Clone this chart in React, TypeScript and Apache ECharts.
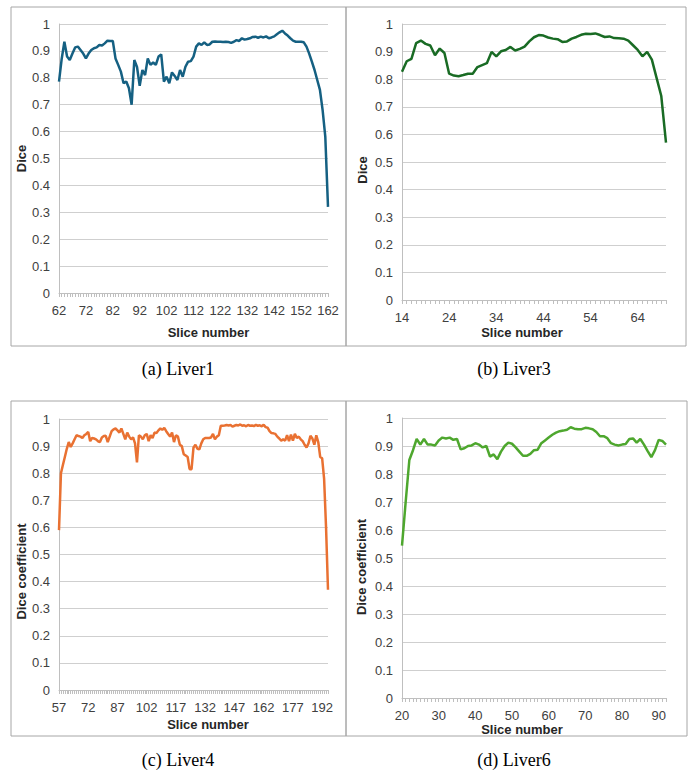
import React, { useEffect, useRef } from "react";
import * as echarts from "echarts";

// Slice-number ranges (first slice of each panel)
const liver1Start = 62;
const liver3Start = 14;
const liver4Start = 57;
const liver6Start = 20;

// Dice values per slice
const liver1Dice = [
  0.786, 0.87, 0.934, 0.879, 0.866, 0.89, 0.913, 0.916, 0.903, 0.89,
  0.872, 0.89, 0.903, 0.91, 0.913, 0.922, 0.92, 0.928, 0.938, 0.937,
  0.937, 0.872, 0.848, 0.823, 0.78, 0.786, 0.761, 0.70, 0.866, 0.84,
  0.77, 0.829, 0.81, 0.872, 0.848, 0.857, 0.848, 0.879, 0.887, 0.786,
  0.804, 0.78, 0.82, 0.807, 0.792, 0.829, 0.804, 0.841, 0.86, 0.862,
  0.879, 0.916, 0.928, 0.922, 0.932, 0.922, 0.924, 0.934, 0.935, 0.934,
  0.934, 0.933, 0.934, 0.933, 0.93, 0.934, 0.94, 0.937, 0.947, 0.942,
  0.944, 0.947, 0.952, 0.953, 0.949, 0.953, 0.95, 0.954, 0.947, 0.95,
  0.954, 0.962, 0.969, 0.975, 0.965, 0.957, 0.947, 0.938, 0.934, 0.934,
  0.934, 0.932, 0.916, 0.89, 0.86, 0.829, 0.792, 0.755, 0.68, 0.58,
  0.32,
];

const liver3Dice = [
  0.827, 0.865, 0.874, 0.931, 0.94, 0.928, 0.922, 0.887, 0.911, 0.895,
  0.82, 0.813, 0.811, 0.815, 0.82, 0.82, 0.844, 0.851, 0.858, 0.899,
  0.883, 0.901, 0.906, 0.917, 0.904, 0.91, 0.918, 0.937, 0.952, 0.96,
  0.958, 0.951, 0.947, 0.945, 0.935, 0.937, 0.947, 0.953, 0.961, 0.965,
  0.964, 0.966, 0.96, 0.953, 0.955, 0.949, 0.948, 0.947, 0.94, 0.923,
  0.906, 0.883, 0.899, 0.871, 0.805, 0.739, 0.57,
];

const liver4Dice = [
  0.59, 0.80, 0.83, 0.86, 0.89, 0.915, 0.897, 0.91, 0.925, 0.94,
  0.937, 0.935, 0.93, 0.94, 0.945, 0.952, 0.918, 0.93, 0.928, 0.925,
  0.918, 0.915, 0.932, 0.937, 0.938, 0.915, 0.935, 0.955, 0.962, 0.965,
  0.958, 0.95, 0.965, 0.945, 0.925, 0.95, 0.935, 0.925, 0.932, 0.91,
  0.84, 0.94, 0.935, 0.925, 0.94, 0.945, 0.918, 0.94, 0.93, 0.95,
  0.948, 0.958, 0.965, 0.96, 0.967, 0.955, 0.945, 0.935, 0.95, 0.915,
  0.94, 0.935, 0.905, 0.9, 0.87, 0.865, 0.86, 0.815, 0.815, 0.895,
  0.905, 0.89, 0.888, 0.91, 0.925, 0.93, 0.93, 0.93, 0.932, 0.945,
  0.925, 0.935, 0.94, 0.975, 0.975, 0.976, 0.978, 0.976, 0.978, 0.972,
  0.975, 0.978, 0.976, 0.98, 0.975, 0.977, 0.973, 0.978, 0.975, 0.976,
  0.974, 0.978, 0.975, 0.977, 0.973, 0.979, 0.97, 0.968, 0.955, 0.948,
  0.947, 0.945, 0.935, 0.928, 0.92, 0.925, 0.92, 0.94, 0.918, 0.942,
  0.92, 0.945, 0.93, 0.935, 0.925, 0.918, 0.905, 0.895, 0.91, 0.938,
  0.928, 0.905, 0.94, 0.915, 0.86, 0.855, 0.78, 0.6, 0.37,
];

const liver6Dice = [
  0.544, 0.70, 0.85, 0.885, 0.925, 0.905, 0.925, 0.905, 0.905, 0.902,
  0.92, 0.93, 0.927, 0.93, 0.922, 0.925, 0.888, 0.892, 0.9, 0.902,
  0.91, 0.905, 0.895, 0.9, 0.862, 0.87, 0.853, 0.88, 0.9, 0.912,
  0.908, 0.895, 0.88, 0.865, 0.865, 0.872, 0.885, 0.887, 0.91, 0.92,
  0.93, 0.94, 0.948, 0.953, 0.955, 0.958, 0.967, 0.962, 0.96, 0.96,
  0.965, 0.963, 0.96, 0.95, 0.935, 0.935, 0.928, 0.91, 0.905, 0.902,
  0.905, 0.907, 0.925, 0.927, 0.912, 0.925, 0.905, 0.882, 0.86, 0.885,
  0.922, 0.918, 0.905,
];

const captions = ["(a) Liver1", "(b) Liver3", "(c) Liver4", "(d) Liver6"];
const yTitles = ["Dice", "Dice", "Dice coefficient", "Dice coefficient"];
const xTitle = "Slice number";
const lineColors = ["#156082", "#196B24", "#E97132", "#4EA72E"];

const slices = (start: number, values: number[]) =>
  values.map((_, i) => String(start + i));

export default function App() {
  const ref = useRef<HTMLDivElement>(null);

  useEffect(() => {
    if (!ref.current) return;
    const chart = echarts.init(ref.current, null, { renderer: "svg" });

    const panels = [
      { cats: slices(liver1Start, liver1Dice), vals: liver1Dice, grid: { left: 59, top: 24, width: 269, height: 269 }, labInt: 9, xGap: 33, xPad: [0, 0, 0, 30], yGap: 28, yPad: [0, 0, 0, 0] },
      { cats: slices(liver3Start, liver3Dice), vals: liver3Dice, grid: { left: 402, top: 24, width: 264, height: 276 }, labInt: 9, xGap: 26, xPad: [0, 24, 0, 0], yGap: 33, yPad: [0, 16, 0, 0] },
      { cats: slices(liver4Start, liver4Dice), vals: liver4Dice, grid: { left: 59, top: 419, width: 269, height: 271 }, labInt: 14, xGap: 28, xPad: [0, 0, 0, 29], yGap: 28, yPad: [0, 34, 0, 0] },
      { cats: slices(liver6Start, liver6Dice), vals: liver6Dice, grid: { left: 402, top: 418, width: 264, height: 280 }, labInt: 9, xGap: 25, xPad: [0, 24, 0, 0], yGap: 34, yPad: [0, 18, 0, 0] },
    ];

    const font = "Liberation Sans, Arial, sans-serif";

    const option: any = {
      animation: false,
      backgroundColor: "#ffffff",
      grid: panels.map((p) => ({ ...p.grid, containLabel: false })),
      xAxis: panels.map((p, i) => ({
        type: "category",
        gridIndex: i,
        data: p.cats,
        boundaryGap: false,
        axisLine: { show: true, lineStyle: { color: "#bfbfbf", width: 1 } },
        axisTick: { show: true, interval: 0, length: 4, lineStyle: { color: "#bfbfbf" } },
        axisLabel: { interval: p.labInt, color: "#404040", fontSize: 13, margin: 11, fontFamily: font },
        splitLine: { show: false },
        name: xTitle,
        nameLocation: "middle",
        nameGap: p.xGap,
        nameTextStyle: { fontWeight: "bold", fontSize: 13, color: "#262626", fontFamily: font, padding: p.xPad },
      })),
      yAxis: panels.map((p, i) => ({
        type: "value",
        gridIndex: i,
        min: 0,
        max: 1,
        interval: 0.1,
        axisLine: { show: true, lineStyle: { color: "#bfbfbf", width: 1 } },
        axisTick: { show: false },
        axisLabel: {
          color: "#404040",
          fontSize: 13,
          margin: 9,
          fontFamily: font,
          formatter: (v: number) => String(Math.round(v * 10) / 10),
        },
        splitLine: { show: true, lineStyle: { color: "#cfcfcf", width: 1 } },
        name: yTitles[i],
        nameLocation: "middle",
        nameGap: p.yGap,
        nameTextStyle: { fontWeight: "bold", fontSize: 13, color: "#262626", fontFamily: font, padding: p.yPad },
      })),
      series: panels.map((p, i) => ({
        type: "line",
        xAxisIndex: i,
        yAxisIndex: i,
        data: p.vals,
        symbol: "none",
        smooth: false,
        lineStyle: { color: lineColors[i], width: 2.5 },
        itemStyle: { color: lineColors[i] },
      })),
      graphic: [
        { type: "rect", shape: { x: 11, y: 7, width: 335, height: 339 }, style: { fill: "none", stroke: "#a6a6a6", lineWidth: 1 }, silent: true },
        { type: "rect", shape: { x: 346, y: 7, width: 340, height: 339 }, style: { fill: "none", stroke: "#a6a6a6", lineWidth: 1 }, silent: true },
        { type: "rect", shape: { x: 11, y: 401, width: 335, height: 335 }, style: { fill: "none", stroke: "#a6a6a6", lineWidth: 1 }, silent: true },
        { type: "rect", shape: { x: 346, y: 401, width: 341, height: 335 }, style: { fill: "none", stroke: "#a6a6a6", lineWidth: 1 }, silent: true },
        ...captions.map((c, i) => ({
          type: "text",
          x: i % 2 === 0 ? 178 : 514,
          y: i < 2 ? 369 : 760,
          style: {
            text: c,
            font: '18px "Liberation Serif", "Times New Roman", serif',
            fill: "#000000",
            textAlign: "center",
            textVerticalAlign: "middle",
          },
        })),
      ],
    };

    chart.setOption(option);
    return () => chart.dispose();
  }, []);

  return (
    <div
      ref={ref}
      style={{ position: "fixed", left: 0, top: 0, width: 689, height: 775, background: "#fff" }}
    />
  );
}
